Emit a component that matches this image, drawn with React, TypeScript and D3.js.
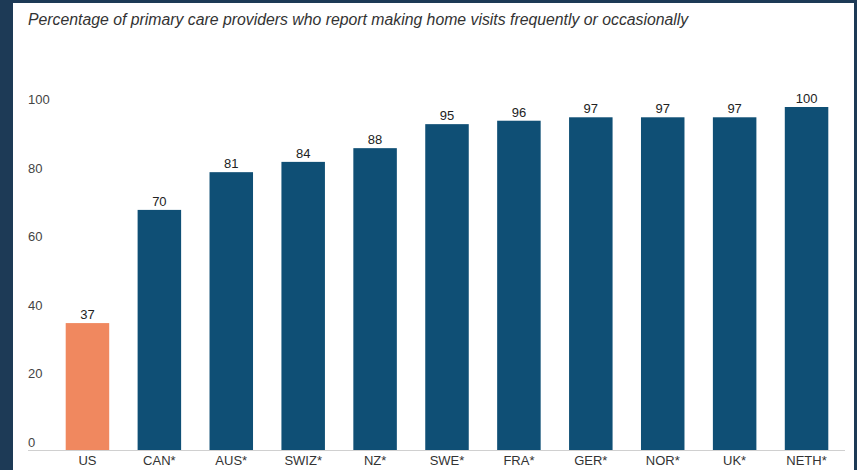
import React from "react";
import * as d3 from "d3";

const categories = ["US", "CAN*", "AUS*", "SWIZ*", "NZ*", "SWE*", "FRA*", "GER*", "NOR*", "UK*", "NETH*"];
const values = [37, 70, 81, 84, 88, 95, 96, 97, 97, 97, 100];
const yTicks = [0, 20, 40, 60, 80, 100];
const title = "Percentage of primary care providers who report making home visits frequently or occasionally";

const W = 857;
const H = 470;
const FONT = "'Liberation Sans', Arial, Helvetica, sans-serif";

export default function App() {
  const x = d3.scaleBand<string>().domain(categories).range([51.5, 842.5]).paddingInner(0.395).paddingOuter(0.1975);
  const y = d3.scaleLinear().domain([0, 100]).range([450, 107]);

  return (
    <svg width={W} height={H} style={{ position: "absolute", left: 0, top: 0, display: "block" }}>
      <rect x={0} y={0} width={W} height={H} fill="#1d3a56" />
      <rect x={13} y={3} width={841} height={H - 3} fill="#ffffff" />
      <text x={28} y={24.5} fontFamily={FONT} fontStyle="italic" fontSize={15.8} fill="#333">
        {title}
      </text>
      {yTicks.map((t) => (
        <text key={t} x={28} y={y(t) - 3} fontFamily={FONT} fontSize={13} fill="#444">
          {t}
        </text>
      ))}
      <line x1={28} x2={845} y1={y(0) + 0.5} y2={y(0) + 0.5} stroke="#d0d0d0" strokeWidth={1} />
      {categories.map((c, i) => (
        <g key={c}>
          <rect
            x={x(c)}
            y={y(values[i])}
            width={x.bandwidth()}
            height={y(0) - y(values[i])}
            fill={i === 0 ? "#f0885f" : "#0f4f75"}
          />
          <text
            x={(x(c) as number) + x.bandwidth() / 2}
            y={y(values[i]) - 4}
            textAnchor="middle"
            fontFamily={FONT}
            fontSize={13}
            fill="#222"
          >
            {values[i]}
          </text>
          <text
            x={(x(c) as number) + x.bandwidth() / 2}
            y={465}
            textAnchor="middle"
            fontFamily={FONT}
            fontSize={13}
            fill="#333"
          >
            {c}
          </text>
        </g>
      ))}
    </svg>
  );
}
